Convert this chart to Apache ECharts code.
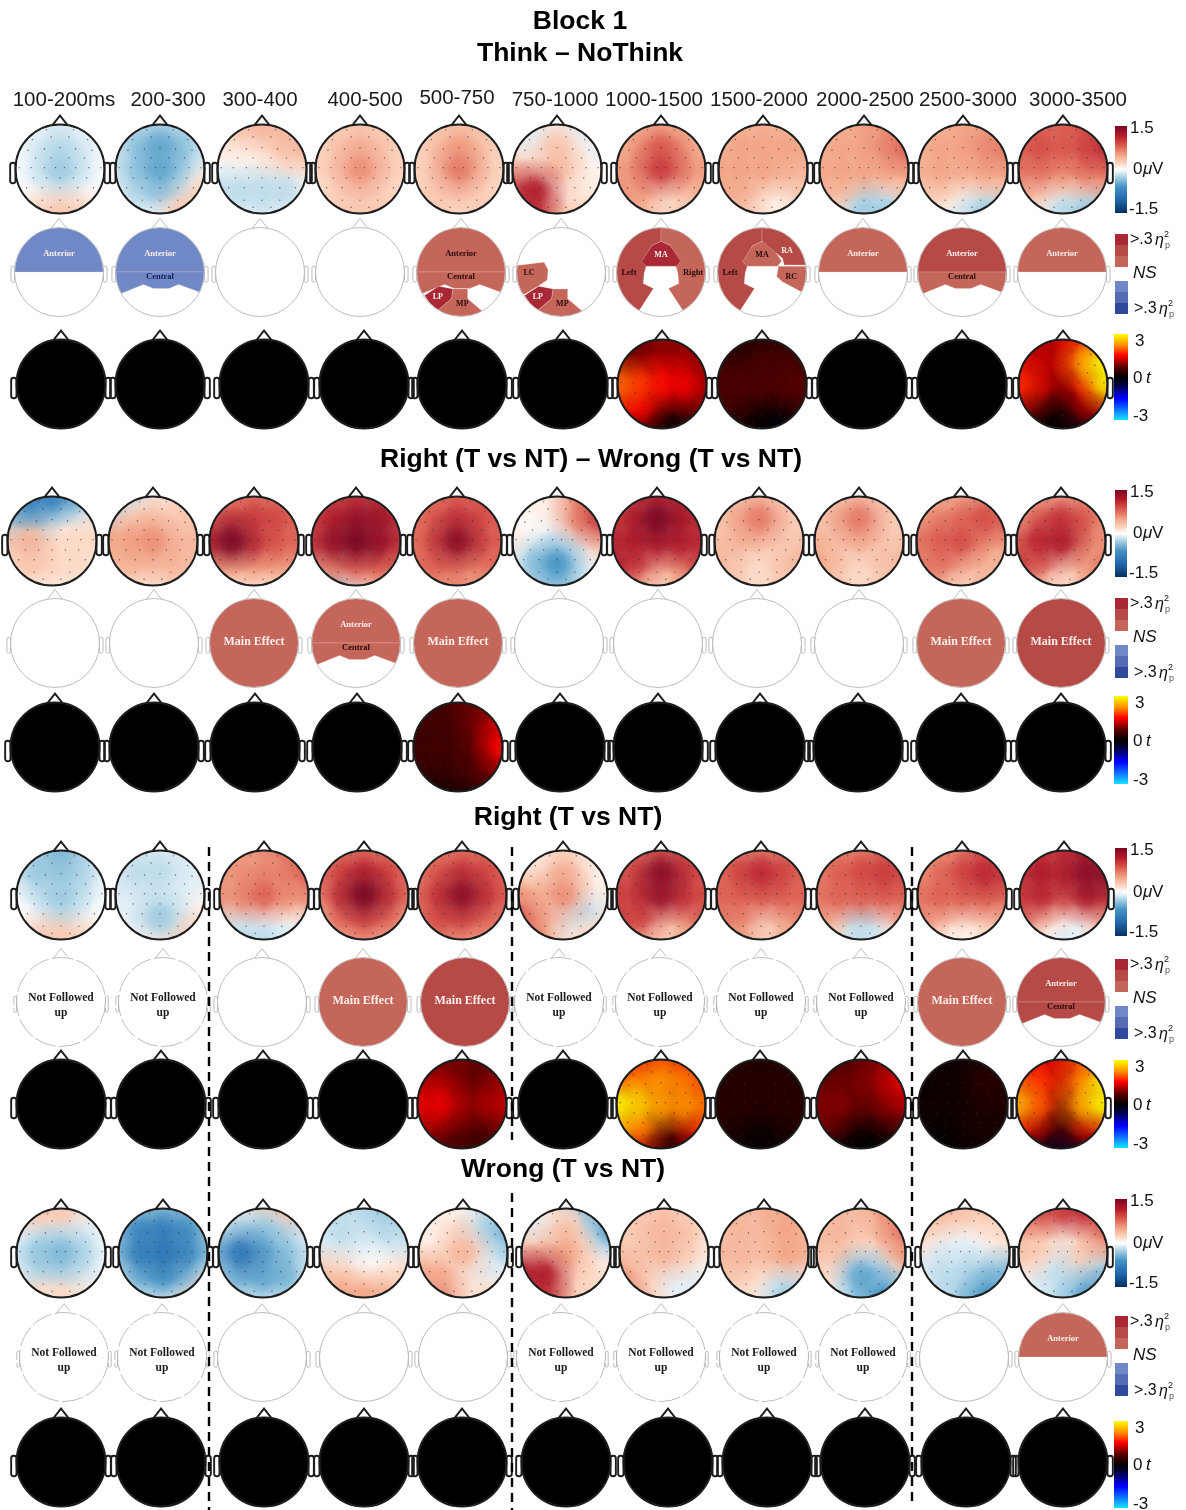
<!DOCTYPE html>
<html lang="en">
  <head>
    <meta charset="UTF-8" />
    <title>Block 1</title>
    <style>
      html, body { margin: 0; background: #fff; }
      #chart { width: 1186px; height: 1510px; }
    </style>
    <script src="https://cdn.jsdelivr.net/npm/echarts@6/dist/echarts.min.js"></script>
  </head>
  <body>
    <div id="chart"></div>
    <script>
      const timeWindows = ['100-200ms', '200-300', '300-400', '400-500', '500-750', '750-1000', '1000-1500', '1500-2000', '2000-2500', '2500-3000', '3000-3500'];
      const panelTitles = ['Block 1', 'Think \u2013 NoThink', 'Right (T vs NT) \u2013 Wrong (T vs NT)', 'Right (T vs NT)', 'Wrong (T vs NT)'];

      // voltage maps, 0.1 uV, 5x5 samples, front row first, left to right
      const voltThinkNoThink = [
        [0,0,-1,0,0, 0,-1,-2,-1,0, 0,-1,-3,-1,0, 0,0,-1,0,0, 0,2,3,2,0],
        [0,-1,-2,-1,0, -1,-3,-5,-3,-1, -1,-3,-5,-2,0, 0,-2,-3,-1,2, 0,0,0,3,3],
        [2,3,4,4,3, 1,1,1,3,4, 0,0,1,1,1, -2,-2,-2,-2,0, 0,0,-1,0,0],
        [1,2,3,2,1, 2,3,4,3,2, 2,3,6,3,2, 1,2,3,2,2, 1,3,3,3,1],
        [2,3,3,3,2, 2,3,5,3,2, 2,3,7,3,2, 2,3,3,2,2, 2,3,1,3,2],
        [0,-1,1,-1,0, 0,-1,3,0,-1, 3,1,4,1,0, 8,12,0,1,1, 12,10,3,2,1],
        [4,4,4,4,3, 4,5,8,5,4, 5,6,10,6,5, 6,5,1,2,4, 5,4,1,3,3],
        [4,4,4,4,4, 4,5,5,5,5, 5,5,5,4,4, 5,4,1,1,3, 3,3,1,1,1],
        [3,4,5,6,6, 4,5,5,6,8, 5,5,5,5,5, 4,3,-2,0,2, 2,0,-3,-3,-1],
        [3,4,5,5,5, 4,5,5,6,7, 4,5,4,5,5, 3,2,0,1,2, 1,0,-1,-3,-2],
        [7,8,8,9,8, 8,9,8,9,11, 7,7,5,7,7, 4,2,1,1,3, 1,0,-2,-3,-3]
      ];
      const voltRightWrong = [
        [-6,-8,-8,-4,0, -2,-4,-1,0,1, 3,4,1,2,2, 1,3,2,2,1, 0,1,1,1,0],
        [-3,-2,1,1,1, -2,2,3,3,3, 5,5,6,3,4, 3,4,3,4,4, 1,1,1,2,1],
        [3,5,7,6,5, 7,9,10,9,8, 11,15,10,8,8, 5,5,5,5,5, 0,1,1,1,0],
        [7,9,10,10,9, 9,11,13,13,10, 10,13,15,13,10, 5,6,8,8,7, -5,-3,0,2,1],
        [6,7,8,8,7, 7,8,10,9,8, 7,9,14,9,8, 7,8,7,6,8, 4,5,6,5,4],
        [0,1,1,6,9, 0,0,1,6,10, 1,0,-1,-1,3, 0,-3,-6,-1,0, 0,-2,-3,-1,0],
        [9,10,11,11,9, 10,11,15,12,11, 11,12,12,12,11, 12,9,3,5,9, 5,4,1,4,4],
        [1,2,3,2,1, 3,4,7,3,3, 3,4,3,3,3, 4,2,0,3,4, 2,3,1,3,2],
        [1,2,3,2,1, 3,4,7,3,3, 4,3,4,3,3, 5,3,0,3,4, 3,3,1,3,2],
        [3,4,4,5,4, 4,6,7,9,8, 7,8,9,5,5, 7,7,3,4,4, 3,3,1,4,3],
        [3,4,4,4,4, 4,7,10,8,6, 7,11,12,6,5, 10,7,1,4,7, 3,2,1,3,6]
      ];
      const voltRight = [
        [-1,-3,-4,-2,0, -1,-3,-3,-2,0, 0,-1,-3,-1,0, 0,0,-2,0,0, 1,3,3,2,0],
        [0,-1,-1,-1,0, -1,-2,-2,-1,-1, -1,-1,-1,-1,0, 0,-1,-3,-1,1, 0,0,1,2,3],
        [5,5,6,7,8, 5,6,6,6,8, 6,6,8,5,6, -1,-1,0,0,0, -1,-2,-2,-1,0],
        [5,6,7,6,6, 7,9,11,9,7, 5,10,15,10,7, 3,7,9,7,4, 1,4,5,4,2],
        [6,7,7,7,8, 7,8,10,9,8, 7,10,14,10,8, 7,9,9,7,7, 5,6,5,5,5],
        [0,0,2,1,0, 1,1,4,1,0, 5,3,6,1,1, 8,4,-1,-2,1, 8,5,0,2,2],
        [7,7,8,8,7, 8,9,14,10,9, 10,10,13,10,9, 10,9,2,4,8, 5,4,2,4,4],
        [6,6,6,6,6, 7,9,11,9,8, 8,8,8,8,8, 7,6,0,3,6, 5,5,1,4,5],
        [5,6,6,7,7, 6,8,9,10,9, 7,8,8,8,8, 5,2,-2,0,4, 3,1,-2,-1,1],
        [4,5,6,8,8, 5,7,9,11,10, 7,8,8,8,7, 6,3,1,2,4, 2,0,0,1,2],
        [9,10,10,12,12, 10,12,11,14,14, 10,11,7,12,10, 7,2,0,1,4, 1,0,-1,-1,1]
      ];
      const voltWrong = [
        [2,3,3,1,0, 0,-1,-1,-1,0, -1,-3,-4,-2,0, 0,-2,-2,-1,0, 1,2,2,1,0],
        [-1,-2,-3,-2,-1, -3,-7,-8,-6,-2, -3,-8,-9,-7,-3, -1,-4,-6,-3,0, 0,0,-1,1,3],
        [1,1,2,3,2, -1,-2,-3,-2,0, -4,-9,-5,-3,-1, -2,-4,-5,-4,0, 0,-1,-1,-1,0],
        [-1,-2,-2,-3,-2, -1,-2,-1,-2,-2, -1,-1,0,0,-1, 3,2,0,1,2, 4,5,5,4,2],
        [0,0,0,-1,-3, 1,1,2,-2,-4, 1,1,4,0,-2, 5,4,0,-1,0, 4,6,1,2,0],
        [0,0,2,-3,-4, -1,-1,3,0,-5, 3,3,5,1,0, 12,12,2,2,1, 10,10,3,2,1],
        [3,3,3,2,1, 2,3,4,3,1, 3,3,4,2,1, 5,2,-1,-1,0, 7,3,0,-1,0],
        [3,4,4,5,3, 3,4,3,5,3, 4,4,3,5,4, 3,2,1,-1,0, 1,2,0,-3,-2],
        [3,4,3,5,7, 4,4,2,4,7, 3,3,0,1,5, 2,0,-5,-2,-1, 1,0,-3,-6,-3],
        [3,4,3,3,2, 2,1,0,1,2, 1,-1,-1,0,1, -1,-2,-2,-3,-4, 0,-1,-3,-6,-4],
        [7,9,10,11,8, 4,3,0,2,7, 3,2,-1,3,3, 0,-1,-2,-2,-3, 0,-1,-2,-5,-7]
      ];

      // t maps, 0.1 t, null = nothing significant (all black)
      const tThinkNoThink = [null, null, null, null, null, null,
        [5,8,9,10,8, 8,6,10,10,8, 20,17,15,14,10, 15,14,1,4,8, 5,4,0,1,2],
        [1,2,3,3,2, 4,3,5,5,4, 6,6,6,6,7, 5,3,0,1,4, 1,1,0,-1,-1],
        null, null,
        [8,10,12,15,16, 13,12,12,22,30, 17,12,4,14,28, 9,2,0,8,11, 1,0,0,-2,-1]
      ];
      const tRightWrong = [null, null, null, null,
        [3,4,6,8,6, 5,5,5,8,12, 5,5,5,7,15, 4,3,4,6,8, -1,-1,2,2,1],
        null, null, null, null, null, null
      ];
      const tRight = [null, null, null, null,
        [8,8,8,7,8, 9,10,7,6,10, 14,14,9,10,12, 10,8,6,1,8, 6,6,5,5,5],
        null,
        [12,16,18,16,12, 16,20,22,20,17, 29,25,22,22,20, 22,20,2,8,16, 13,10,2,4,8],
        [1,2,2,2,1, 2,3,3,3,2, 3,3,2,3,3, 3,1,0,1,3, 1,1,0,1,1],
        [4,6,6,9,10, 6,7,8,10,14, 9,9,5,8,10, 8,3,0,1,5, 1,0,0,0,1],
        [0,1,1,2,2, 0,1,1,3,3, 1,1,1,2,2, 1,0,1,2,1, 0,0,0,1,0],
        [12,14,12,18,18, 18,17,10,20,28, 24,18,2,22,29, 14,8,0,10,14, -1,-2,-3,-2,-1]
      ];
      const tWrong = new Array(11).fill(null);

      // effect maps: [region, effect level (+ red, - blue), label tone]; NF = not followed up
      const NF = 'NF';
      const effectThinkNoThink = [
        [['anterior', -1, 'w']],
        [['anterior', -1, 'w'], ['central', -1, 'n']],
        [], [],
        [['anterior', 1, 'k'], ['central', 1, 'k'], ['lp', 3, 'w'], ['mp', 1, 'k']],
        [['lc', 1, 'k'], ['lp', 3, 'w'], ['mp', 1, 'k']],
        [['left', 2, 'k'], ['right', 1, 'k'], ['ma', 3, 'w']],
        [['left', 2, 'k'], ['ma', 1, 'k'], ['ra', 2, 'w'], ['rc', 1, 'k']],
        [['anterior', 1, 'w']],
        [['anterior', 2, 'w'], ['central', 1, 'k']],
        [['anterior', 1, 'w']]
      ];
      const effectRightWrong = [
        [], [],
        [['main', 1, 'w']],
        [['anterior', 1, 'w'], ['central', 1, 'k']],
        [['main', 1, 'w']],
        [], [], [], [],
        [['main', 1, 'w']],
        [['main', 2, 'w']]
      ];
      const effectRight = [
        NF, NF, [],
        [['main', 1, 'w']],
        [['main', 2, 'w']],
        NF, NF, NF, NF,
        [['main', 1, 'w']],
        [['anterior', 2, 'w'], ['central', 2, 'k']]
      ];
      const effectWrong = [
        NF, NF, [], [], [], NF, NF, NF, NF, [],
        [['anterior', 1, 'w']]
      ];

      // sensor sites in head units
      const electrodes = [
        [-.3,.88],[.3,.88],[-.62,.66],[-.2,.72],[.2,.72],[.62,.66],
        [-.72,.42],[-.35,.45],[0,.48],[.35,.45],[.72,.42],
        [-.55,.25],[-.2,.25],[.2,.25],[.55,.25],
        [-.92,.03],[-.65,.03],[-.35,.03],[-.1,.03],[.1,.03],[.35,.03],[.65,.03],[.92,.03],
        [-.6,-.2],[-.3,-.2],[0,-.2],[.3,-.2],[.6,-.2],
        [-.75,-.42],[-.4,-.42],[0,-.42],[.4,-.42],[.75,-.42],
        [-.4,-.7],[0,-.7],[.4,-.7],[-.2,-.86],[.2,-.86]
      ];

      // outline of each region on the head, clipped to the scalp circle
      const regionShapes = {
        main: [[-1.2,1.2],[1.2,1.2],[1.2,-1.2],[-1.2,-1.2]],
        anterior: [[-1.2,1.2],[1.2,1.2],[1.2,0],[-1.2,0]],
        central: [[-1.2,0],[1.2,0],[1.2,-.58],[.94,-.47],[.42,-.28],[.2,-.37],[-.15,-.37],[-.37,-.28],[-.84,-.47],[-1.2,-.58]],
        lp: [[-.82,-.53],[-.5,-.32],[-.18,-.38],[-.21,-.6],[-.52,-.86],[-.7,-.7]],
        mp: [[-.18,-.38],[.15,-.38],[.15,-.6],[.48,-.88],[.2,-1.1],[-.2,-1.1],[-.52,-.86],[-.21,-.6]],
        lc: [[-1.2,.12],[-.48,.21],[-.38,.22],[-.29,.05],[-.31,-.18],[-.52,-.32],[-.82,-.5],[-1.2,-.3]],
        left: [[0,1.2],[0,.69],[-.21,.59],[-.42,.23],[-.33,.14],[-.38,-.03],[-.4,-.26],[-.17,-.37],[-.48,-.85],[-.7,-1.1],[-1.2,-1.1],[-1.2,1.2]],
        right: [[0,1.2],[0,.69],[.21,.59],[.42,.23],[.33,.14],[.38,-.03],[.4,-.26],[.17,-.37],[.48,-.85],[.7,-1.1],[1.2,-1.1],[1.2,1.2]],
        ma: [[0,.69],[.21,.59],[.44,.25],[.35,.13],[-.33,.13],[-.44,.23],[-.21,.59]],
        ra: [[0,1.2],[0,.69],[.46,.31],[.5,.16],[1.2,.16],[1.2,1.2]],
        rc: [[.37,.13],[1.2,.13],[1.2,-.6],[.89,-.45],[.46,-.22],[.33,-.1]]
      };
      const regionLabels = {
        main: ['Main Effect', 0, .02, 12],
        anterior: ['Anterior', 0, .42, 8.5],
        central: ['Central', 0, -.1, 8.5],
        lp: ['LP', -.52, -.55, 8],
        mp: ['MP', .03, -.72, 8],
        lc: ['LC', -.72, -.03, 8],
        left: ['Left', -.72, -.02, 8.5],
        right: ['Right', .72, -.02, 8.5],
        ma: ['MA', 0, .38, 8],
        ra: ['RA', .56, .47, 8],
        rc: ['RC', .66, -.1, 8]
      };
      const labelTones = { w: '#fbeeea', k: '#2a0a0a', n: '#141d55' };
      const effectColors = { '1': '#c4675a', '2': '#b54a47', '3': '#a92836', '-1': '#7089c6', '-2': '#556cb4', '-3': '#2f4a9c' };

      const voltStops = [[-1.5,'#053061'],[-1.05,'#2166ac'],[-.6,'#4393c3'],[-.3,'#9ccae0'],[-.1,'#e0edf5'],[0,'#ffffff'],[.2,'#fcd8c4'],[.5,'#f2a485'],[.85,'#d9564a'],[1.15,'#b81c2a'],[1.5,'#7a0420']];
      const tStops = [[-3,'#19e3ff'],[-1.5,'#0000ff'],[-.5,'#00003a'],[0,'#000000'],[.7,'#5a0000'],[1.5,'#ff0000'],[2.2,'#ff8c00'],[3,'#ffff00']];

      // page layout: scalp centre y and centre x per panel row
      const R = 44.5;
      const panelRows = [
        { kind: 'volt', maps: voltThinkNoThink, cy: 169, xs: [60,160,262,360,459,557,661,763,864,963,1063] },
        { kind: 'effect', maps: effectThinkNoThink, cy: 272, xs: [59,160,260,360,461,561,661,762,863,962,1062] },
        { kind: 't', maps: tThinkNoThink, cy: 384, xs: [61,160,264,364,462,563,662,762,862,962,1063] },
        { kind: 'volt', maps: voltRightWrong, cy: 541, xs: [52,153,254,356,457,557,657,759,859,961,1061] },
        { kind: 'effect', maps: effectRightWrong, cy: 643, xs: [55,154,254,356,458,559,658,757,859,961,1061] },
        { kind: 't', maps: tRightWrong, cy: 747, xs: [55,154,255,357,458,560,658,760,858,961,1061] },
        { kind: 'volt', maps: voltRight, cy: 895, xs: [61,160,264,364,462,563,661,761,861,962,1064] },
        { kind: 'effect', maps: effectRight, cy: 1002, xs: [61,163,262,363,465,559,660,761,861,962,1061] },
        { kind: 't', maps: tRight, cy: 1104, xs: [61,161,263,363,462,563,661,760,861,963,1061] },
        { kind: 'volt', maps: voltWrong, cy: 1253, xs: [61,163,263,364,463,566,664,764,861,965,1063] },
        { kind: 'effect', maps: effectWrong, cy: 1357, xs: [64,162,262,364,463,561,661,764,863,964,1063] },
        { kind: 't', maps: tWrong, cy: 1462, xs: [61,161,264,364,462,566,668,767,865,966,1063] }
      ];

      const sans = 'Liberation Sans';
      const serif = 'Liberation Serif';
      const sampleAt = [-1, -.5, 0, .5, 1];

      function colorAt(stops, v) {
        if (v <= stops[0][0]) return echarts.color.parse(stops[0][1]);
        for (let i = 1; i < stops.length; i++) {
          if (v <= stops[i][0]) {
            const t = (v - stops[i - 1][0]) / (stops[i][0] - stops[i - 1][0]);
            const a = echarts.color.parse(stops[i - 1][1]);
            const b = echarts.color.parse(stops[i][1]);
            return [0, 1, 2].map((k) => a[k] + (b[k] - a[k]) * t);
          }
        }
        return echarts.color.parse(stops[stops.length - 1][1]);
      }

      function scalpClip(api) {
        const o = api.coord([0, 0]);
        return { type: 'circle', shape: { cx: o[0], cy: o[1], r: api.size([1, 1])[0] - 0.5 } };
      }

      const renderDisc = (fill) => (params, api) => {
        const o = api.coord([0, 0]);
        return { type: 'circle', shape: { cx: o[0], cy: o[1], r: api.size([1, 1])[0] }, style: { fill: fill } };
      };

      const renderSample = (stops) => (params, api) => {
        const c = api.coord([api.value(0), api.value(1)]);
        const rgb = colorAt(stops, api.value(2)).slice(0, 3).map(Math.round).join(',');
        const ring = (a) => 'rgba(' + rgb + ',' + a + ')';
        return {
          type: 'circle',
          shape: { cx: c[0], cy: c[1], r: api.size([1, 1])[0] * 0.78 },
          clipPath: scalpClip(api),
          style: {
            fill: new echarts.graphic.RadialGradient(0.5, 0.5, 0.5, [
              { offset: 0, color: ring(0.95) },
              { offset: 0.25, color: ring(0.8) },
              { offset: 0.55, color: ring(0.35) },
              { offset: 1, color: ring(0) }
            ])
          }
        };
      };

      const renderRegion = (regions) => (params, api) => {
        const entry = regions[params.dataIndex];
        const pts = regionShapes[entry[0]].map((p) => api.coord(p));
        const lab = regionLabels[entry[0]];
        const at = api.coord([lab[1], lab[2]]);
        return {
          type: 'group',
          children: [
            {
              type: 'polygon',
              shape: { points: pts },
              clipPath: scalpClip(api),
              style: { fill: effectColors[entry[1]], stroke: 'rgba(255,225,215,.35)', lineWidth: 0.7 }
            },
            {
              type: 'text',
              z2: 5,
              style: {
                x: at[0], y: at[1], text: lab[0], align: 'center', verticalAlign: 'middle',
                fontFamily: serif, fontWeight: 'bold', fontSize: lab[3], fill: labelTones[entry[2]]
              }
            }
          ]
        };
      };

      const renderOutline = (stroke, width, dash, earWidth, earTop, earHeight) => (params, api) => {
        const o = api.coord([0, 0]);
        const unit = api.size([1, 1])[0];
        const line = { fill: 'none', stroke: stroke, lineWidth: width, lineDash: dash };
        const ear = (x) => ({ type: 'rect', shape: { x: x, y: o[1] - earTop * unit, width: earWidth * unit, height: earHeight * unit, r: 2.5 }, style: line });
        return {
          type: 'group',
          children: [
            { type: 'circle', shape: { cx: o[0], cy: o[1], r: unit }, style: line },
            { type: 'polyline', shape: { points: [api.coord([-.17, .985]), api.coord([0, 1.2]), api.coord([.17, .985])] }, style: line },
            ear(o[0] - (1 + earWidth) * unit),
            ear(o[0] + unit)
          ]
        };
      };

      function samplesOf(values) {
        const out = [];
        values.forEach((v, i) => {
          out.push([sampleAt[i % 5], sampleAt[4 - Math.floor(i / 5)], v / 10]);
        });
        // strongest last so peaks stay on top
        return out.sort((a, b) => Math.abs(a[2]) - Math.abs(b[2]));
      }

      const grids = [], xAxes = [], yAxes = [], series = [];

      panelRows.forEach((row) => {
        row.xs.forEach((cx, col) => {
          const gridIndex = grids.length;
          grids.push({ left: cx - R, top: row.cy - R, width: 2 * R, height: 2 * R, show: false });
          xAxes.push({ type: 'value', gridIndex, min: -1, max: 1, show: false });
          yAxes.push({ type: 'value', gridIndex, min: -1, max: 1, show: false });
          const on = { xAxisIndex: gridIndex, yAxisIndex: gridIndex, silent: true, animation: false };
          const centre = [[0, 0]];
          const map = row.maps[col];

          if (row.kind === 'effect') {
            if (map === NF) {
              series.push({ type: 'custom', ...on, data: centre, renderItem: renderOutline('#b5b5b5', 0.9, [22, 3], 0.06, 0.13, 0.36) });
              series.push({
                type: 'custom', ...on, data: [[0, .1], [0, -.24]],
                renderItem: (params, api) => {
                  const c = api.coord([api.value(0), api.value(1)]);
                  return {
                    type: 'text',
                    style: {
                      x: c[0], y: c[1], text: params.dataIndex === 0 ? 'Not Followed' : 'up',
                      align: 'center', verticalAlign: 'middle', fontFamily: serif, fontWeight: 'bold', fontSize: 11.5, fill: '#1c1c1c'
                    }
                  };
                }
              });
            } else {
              series.push({ type: 'custom', ...on, data: centre, renderItem: renderOutline('#bdbdbd', 1, null, 0.08, 0.13, 0.36) });
              series.push({ type: 'custom', ...on, data: map.map((m, i) => [0, 0, i]), renderItem: renderRegion(map) });
            }
            return;
          }

          const dark = row.kind === 't';
          series.push({ type: 'custom', ...on, data: centre, renderItem: renderDisc(dark ? '#000' : '#fff') });
          if (map) {
            series.push({ type: 'custom', ...on, data: samplesOf(map), renderItem: renderSample(dark ? tStops : voltStops) });
            series.push({ type: 'scatter', ...on, data: electrodes, symbolSize: 1.4, itemStyle: { color: dark ? '#4a2a10' : '#333', opacity: 0.75 } });
          }
          series.push({ type: 'custom', ...on, data: centre, renderItem: renderOutline('#1d1d1d', 1.9, null, 0.12, 0.14, 0.46) });
        });
      });

      // page text, colour bars and dashed dividers
      const graphics = [];
      const addText = (text, x, y, size, opts) => graphics.push({
        type: 'text', x, y, silent: true,
        style: Object.assign({ text, fontFamily: sans, fontSize: size, fill: '#111', align: 'left', verticalAlign: 'middle' }, opts)
      });

      const titleAt = [[580, 22], [580, 54], [591, 460], [568, 818], [563, 1170]];
      panelTitles.forEach((t, i) => addText(t, titleAt[i][0], titleAt[i][1], 26.5, { fontWeight: 'bold', align: 'center', fill: '#000' }));
      const labelX = [64, 168, 260, 365, 457, 555, 654, 759, 865, 968, 1078];
      const labelY = [100, 100, 100, 100, 98, 100, 100, 100, 100, 100, 100];
      timeWindows.forEach((t, i) => addText(t, labelX[i], labelY[i], 20.5, { align: 'center', fill: '#1a1a1a' }));

      const barStops = (stops) => stops.map((s) => ({
        offset: (stops[stops.length - 1][0] - s[0]) / (stops[stops.length - 1][0] - stops[0][0]),
        color: s[1]
      })).reverse();

      const addBar = (x, y0, y1, width, stops) => graphics.push({
        type: 'rect', silent: true,
        shape: { x, y: y0, width, height: y1 - y0 },
        style: { fill: new echarts.graphic.LinearGradient(0, 0, 0, 1, barStops(stops)) }
      });

      [[126, 213], [490, 577], [848, 936], [1199, 1287]].forEach(([a, b]) => {
        addBar(1115, a, b, 12, voltStops);
        addText('1.5', 1130, a + 2, 17, {});
        addText('0', 1133, (a + b) / 2, 17, {});
        addText('\u03bc', 1143, (a + b) / 2, 17, { fontStyle: 'italic' });
        addText('V', 1152, (a + b) / 2, 17, {});
        addText('-1.5', 1129, b - 4, 17, {});
      });

      const addEta = (x, y) => {
        addText('>.3', x, y, 16, {});
        addText('\u03b7', x + 25, y + 1, 16, { fontStyle: 'italic' });
        addText('2', x + 34, y - 5, 9, {});
        addText('p', x + 35, y + 6, 9, { fill: '#555' });
      };
      [234, 598, 959, 1316].forEach((y) => {
        ['3', '2', '1'].forEach((lv, i) => graphics.push({
          type: 'rect', silent: true, shape: { x: 1115, y: y + i * 11, width: 13, height: 11 }, style: { fill: effectColors[lv] }
        }));
        ['-1', '-2', '-3'].forEach((lv, i) => graphics.push({
          type: 'rect', silent: true, shape: { x: 1115, y: y + 47 + i * 11, width: 13, height: 11 }, style: { fill: effectColors[lv] }
        }));
        addEta(1130, y + 6);
        addText('NS', 1133, y + 39, 17, { fontStyle: 'italic' });
        addEta(1134, y + 75);
      });

      [[334, 420], [696, 784], [1060, 1148], [1421, 1508]].forEach(([a, b]) => {
        addBar(1114, a, b, 14, tStops);
        addText('3', 1135, a + 7, 17, {});
        addText('0', 1133, (a + b) / 2 + 1, 17, {});
        addText('t', 1146, (a + b) / 2 + 1, 17, { fontStyle: 'italic' });
        addText('-3', 1133, b - 4, 17, {});
      });

      [[209, 847, 1510], [512, 847, 1140], [512, 1193, 1510], [912, 847, 1505]].forEach(([x, a, b]) => graphics.push({
        type: 'line', silent: true, z: 10,
        shape: { x1: x, y1: a, x2: x, y2: b },
        style: { stroke: '#000', lineWidth: 2.4, lineDash: [9, 6] }
      }));

      const chart = echarts.init(document.getElementById('chart'));
      chart.setOption({
        animation: false,
        backgroundColor: '#fff',
        grid: grids,
        xAxis: xAxes,
        yAxis: yAxes,
        series: series,
        graphic: { elements: graphics }
      });
    </script>
  </body>
</html>
